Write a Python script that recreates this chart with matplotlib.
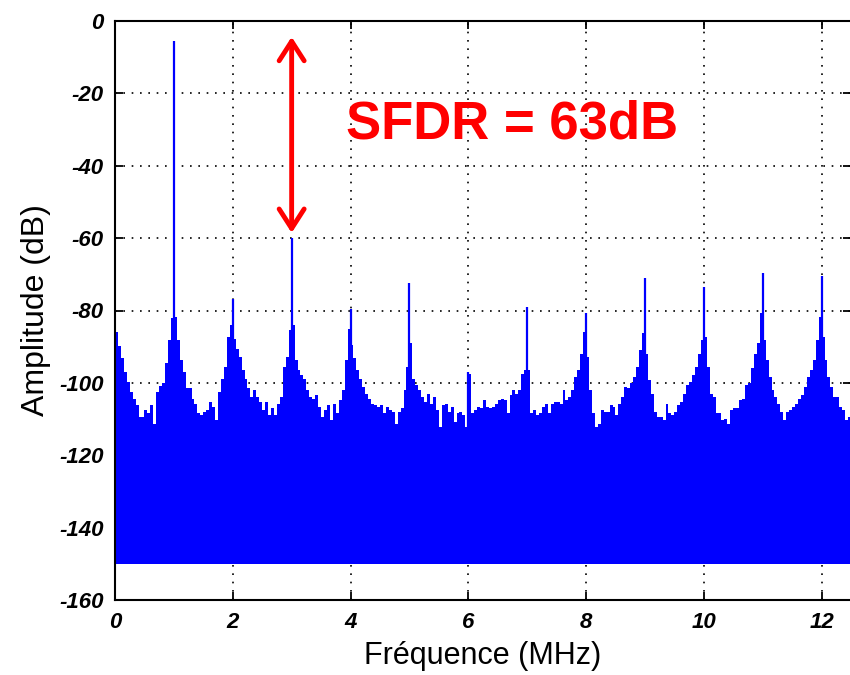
import numpy as np
import matplotlib
matplotlib.use("Agg")
import matplotlib.pyplot as plt

plt.rcParams["axes.unicode_minus"] = False

# FFT spectrum envelope, one value per 0.05 MHz bin (dB)
bin_width = 0.05
env_0_1 = [-85.9, -89.8, -93.2, -96.9, -99.7, -102.4, -104.5, -106.1, -109.3, -109.3,
           -107.5, -108.4, -106.1, -111.2, -102.4, -100.9, -100.1, -94.6, -88.2, -82.2]
env_1_2 = [-81.7, -88.2, -93.7, -96.9, -101.5, -101.5, -104.3, -105.7, -108.4, -108.9,
           -107.9, -107.5, -105.2, -106.6, -110.3, -102.4, -98.8, -95.5, -87.3, -84.0]
env_2_3 = [-88.0, -90.5, -92.8, -96.5, -98.8, -101.5, -103.8, -102.0, -103.8, -105.2,
           -107.5, -105.2, -108.9, -107.0, -108.9, -105.7, -103.8, -95.5, -92.8, -85.4]
env_3_4 = [-84.0, -93.7, -96.5, -97.8, -98.8, -102.0, -103.8, -104.3, -103.4, -106.6,
           -109.3, -107.5, -106.1, -110.3, -105.7, -108.4, -104.7, -102.0, -93.7, -85.0]
env_4_5 = [-89.6, -93.2, -96.5, -98.8, -101.1, -102.9, -104.3, -105.7, -106.1, -106.6,
           -106.1, -108.4, -106.6, -107.5, -107.9, -111.2, -107.9, -107.0, -102.0, -95.5]
env_5_6 = [-89.1, -98.8, -100.6, -102.0, -103.8, -105.2, -102.9, -105.7, -104.0, -107.5,
           -112.1, -106.1, -105.7, -107.9, -106.6, -110.7, -108.4, -107.9, -108.9, -112.1]
env_6_7 = [-97.4, -108.4, -107.5, -106.6, -107.0, -104.7, -106.6, -107.0, -106.6, -105.7,
           -104.7, -104.3, -104.7, -108.4, -103.4, -102.0, -102.9, -102.0, -97.4, -96.5]
env_7_8 = [-96.5, -108.4, -107.5, -108.9, -108.4, -106.6, -105.7, -108.4, -105.7, -105.2,
           -105.2, -105.7, -102.0, -104.7, -103.8, -102.0, -98.3, -96.5, -91.9, -85.9]
env_8_9 = [-92.8, -102.0, -108.4, -112.1, -111.2, -107.5, -107.9, -107.9, -106.1, -106.6,
           -108.9, -105.7, -103.8, -101.1, -101.5, -100.1, -98.3, -95.5, -90.9, -86.3]
env_9_10 = [-91.9, -99.2, -102.9, -107.9, -109.3, -109.3, -110.3, -105.7, -108.4, -108.9,
            -107.9, -106.1, -105.2, -102.9, -100.6, -99.7, -97.8, -95.5, -91.9, -88.2]
env_10_11 = [-87.3, -95.5, -102.9, -103.8, -108.4, -108.4, -110.3, -109.8, -111.2, -107.5,
             -107.0, -107.0, -104.7, -104.3, -100.6, -100.1, -96.0, -91.9, -89.1, -80.8]
env_11_12 = [-88.2, -93.7, -98.3, -102.0, -103.8, -105.7, -107.9, -110.3, -107.9, -107.5,
             -106.6, -105.7, -104.3, -103.4, -101.1, -98.3, -96.5, -93.7, -88.2, -81.7]
env_12_125 = [-87.3, -93.7, -98.3, -101.1, -103.8, -103.8, -106.6, -107.5, -110.3, -109.3]

# harmonic / spur lines (MHz, dB)
peak_freq = [1, 2, 3, 4, 5, 6, 7, 8, 9, 10, 11, 12]
peak_db = [-5.6, -76.7, -60.0, -79.5, -72.4, -96.9, -79.0, -80.8, -70.9, -73.5, -69.6, -70.5]

floor_db = -150

env = np.array(env_0_1 + env_1_2 + env_2_3 + env_3_4 + env_4_5 + env_5_6 + env_6_7
               + env_7_8 + env_8_9 + env_9_10 + env_10_11 + env_11_12 + env_12_125)
freq = np.arange(len(env) + 1) * bin_width
env_step = np.append(env, env[-1])

fig = plt.figure(figsize=(8.5, 6.75), dpi=100)
ax = fig.add_axes([0.1353, 0.1104, 0.8659, 0.8592])

blue = "#0000FF"
ax.fill_between(freq, floor_db, env_step, step="post", color=blue, linewidth=0, zorder=2)
ax.vlines(peak_freq, floor_db, peak_db, color=blue, lw=1.6, zorder=3)

ax.set_xlim(0, 12.5)
ax.set_ylim(-160, 0)
ax.set_xticks(range(0, 13, 2))
ax.set_yticks(range(-160, 1, 20))

ax.set_axisbelow(True)
ax.grid(True, color="black", linestyle=(0, (1, 4)), linewidth=1.2)
for s in ax.spines.values():
    s.set_linewidth(1.5)
    s.set_zorder(5)

ax.tick_params(direction="in", length=6, width=1.3, top=True, right=True, pad=8)
for lab in ax.get_xticklabels() + ax.get_yticklabels():
    lab.set_fontfamily("Liberation Sans")
    lab.set_fontweight("bold")
    lab.set_fontstyle("italic")
    lab.set_fontsize(16)

ax.set_xlabel("Fréquence (MHz)", fontsize=22, family="Liberation Sans", labelpad=6)
ax.set_ylabel("Amplitude (dB)", fontsize=23, family="Liberation Sans", labelpad=6)

# SFDR annotation
ax.annotate("", xy=(3, -58.6), xytext=(3, -4.5),
            arrowprops=dict(arrowstyle="<->, head_length=0.7, head_width=0.45",
                            color="red", lw=3.5, mutation_scale=20,
                            shrinkA=0, shrinkB=0), zorder=6)
ax.text(6.74, -28.8, "SFDR = 63dB", color="red", fontsize=38, fontweight="bold",
        family="Liberation Sans", ha="center", va="center", zorder=6)

fig.savefig("out.png", dpi=100)
